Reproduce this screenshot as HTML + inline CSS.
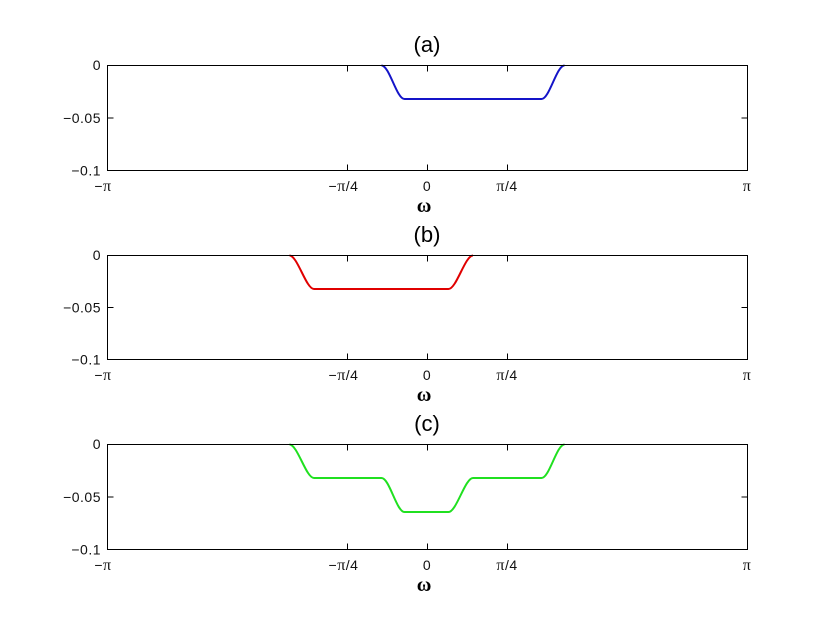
<!DOCTYPE html>
<html>
<head>
<meta charset="utf-8">
<style>
  html,body{margin:0;padding:0;background:#fff;}
  svg{display:block;}
  .t{font-family:"Liberation Sans",sans-serif;font-size:14px;fill:#111;letter-spacing:0.5px;}
  .ttl{font-family:"Liberation Sans",sans-serif;font-size:22px;fill:#000;}
  .om{font-family:"Liberation Serif",serif;font-size:20px;fill:#000;font-weight:600;}
  .pi{font-family:"Liberation Serif",serif;font-size:16px;}
</style>
</head>
<body>
<svg width="826" height="634" viewBox="0 0 826 634" xmlns="http://www.w3.org/2000/svg">
  <rect x="0" y="0" width="826" height="634" fill="#fff"/>

  <!-- ===== Subplot (a) ===== -->
  <text class="ttl" x="427" y="52" text-anchor="middle">(a)</text>
  <path d="M381.5,65.5 C389.5,65.5 396.5,99 404.5,99 L541.5,99 C549.5,99 556.5,65.5 564.5,65.5" fill="none" stroke="#1414c8" stroke-width="2"/>
  <rect x="107.5" y="65.5" width="640" height="105" fill="none" stroke="#000" stroke-width="1"/>
  <g stroke="#000" stroke-width="1">
    <line x1="347.5" y1="65.5" x2="347.5" y2="71.5"/>
    <line x1="427.5" y1="65.5" x2="427.5" y2="71.5"/>
    <line x1="507.5" y1="65.5" x2="507.5" y2="71.5"/>
    <line x1="347.5" y1="170.5" x2="347.5" y2="164.5"/>
    <line x1="427.5" y1="170.5" x2="427.5" y2="164.5"/>
    <line x1="507.5" y1="170.5" x2="507.5" y2="164.5"/>
    <line x1="107.5" y1="118" x2="113.5" y2="118"/>
    <line x1="747.5" y1="118" x2="741.5" y2="118"/>
  </g>
  <text class="t" x="101" y="70" text-anchor="end">0</text>
  <text class="t" x="101" y="123" text-anchor="end">−0.05</text>
  <text class="t" x="101" y="175.5" text-anchor="end">−0.1</text>
  <text class="t" x="103" y="191" text-anchor="middle">−<tspan class="pi">π</tspan></text>
  <text class="t" x="343.5" y="191" text-anchor="middle">−<tspan class="pi">π</tspan>/4</text>
  <text class="t" x="427" y="191" text-anchor="middle">0</text>
  <text class="t" x="507" y="191" text-anchor="middle"><tspan class="pi">π</tspan>/4</text>
  <text class="t" x="747" y="191" text-anchor="middle"><tspan class="pi">π</tspan></text>
  <text class="om" x="424" y="212" text-anchor="middle">ω</text>

  <!-- ===== Subplot (b) ===== -->
  <text class="ttl" x="427" y="242" text-anchor="middle">(b)</text>
  <path d="M289.5,255.5 C297.5,255.5 306,289 314,289 L448.5,289 C456.5,289 465,255.5 473,255.5" fill="none" stroke="#e00000" stroke-width="2"/>
  <rect x="107.5" y="255.5" width="640" height="104" fill="none" stroke="#000" stroke-width="1"/>
  <g stroke="#000" stroke-width="1">
    <line x1="347.5" y1="255.5" x2="347.5" y2="261.5"/>
    <line x1="427.5" y1="255.5" x2="427.5" y2="261.5"/>
    <line x1="507.5" y1="255.5" x2="507.5" y2="261.5"/>
    <line x1="347.5" y1="359.5" x2="347.5" y2="353.5"/>
    <line x1="427.5" y1="359.5" x2="427.5" y2="353.5"/>
    <line x1="507.5" y1="359.5" x2="507.5" y2="353.5"/>
    <line x1="107.5" y1="307.5" x2="113.5" y2="307.5"/>
    <line x1="747.5" y1="307.5" x2="741.5" y2="307.5"/>
  </g>
  <text class="t" x="101" y="260" text-anchor="end">0</text>
  <text class="t" x="101" y="312.5" text-anchor="end">−0.05</text>
  <text class="t" x="101" y="364.5" text-anchor="end">−0.1</text>
  <text class="t" x="103" y="380" text-anchor="middle">−<tspan class="pi">π</tspan></text>
  <text class="t" x="343.5" y="380" text-anchor="middle">−<tspan class="pi">π</tspan>/4</text>
  <text class="t" x="427" y="380" text-anchor="middle">0</text>
  <text class="t" x="507" y="380" text-anchor="middle"><tspan class="pi">π</tspan>/4</text>
  <text class="t" x="747" y="380" text-anchor="middle"><tspan class="pi">π</tspan></text>
  <text class="om" x="424" y="401" text-anchor="middle">ω</text>

  <!-- ===== Subplot (c) ===== -->
  <text class="ttl" x="427" y="431" text-anchor="middle">(c)</text>
  <path d="M289.5,444.5 C297.5,444.5 306,478 314,478 L381.5,478 C389.5,478 396.5,512 404.5,512 L448.5,512 C456.5,512 465,478 473,478 L541.5,478 C549.5,478 556.5,444.5 564.5,444.5" fill="none" stroke="#20e020" stroke-width="2"/>
  <rect x="107.5" y="444.5" width="640" height="105" fill="none" stroke="#000" stroke-width="1"/>
  <g stroke="#000" stroke-width="1">
    <line x1="347.5" y1="444.5" x2="347.5" y2="450.5"/>
    <line x1="427.5" y1="444.5" x2="427.5" y2="450.5"/>
    <line x1="507.5" y1="444.5" x2="507.5" y2="450.5"/>
    <line x1="347.5" y1="549.5" x2="347.5" y2="543.5"/>
    <line x1="427.5" y1="549.5" x2="427.5" y2="543.5"/>
    <line x1="507.5" y1="549.5" x2="507.5" y2="543.5"/>
    <line x1="107.5" y1="497" x2="113.5" y2="497"/>
    <line x1="747.5" y1="497" x2="741.5" y2="497"/>
  </g>
  <text class="t" x="101" y="449" text-anchor="end">0</text>
  <text class="t" x="101" y="502" text-anchor="end">−0.05</text>
  <text class="t" x="101" y="554.5" text-anchor="end">−0.1</text>
  <text class="t" x="103" y="570" text-anchor="middle">−<tspan class="pi">π</tspan></text>
  <text class="t" x="343.5" y="570" text-anchor="middle">−<tspan class="pi">π</tspan>/4</text>
  <text class="t" x="427" y="570" text-anchor="middle">0</text>
  <text class="t" x="507" y="570" text-anchor="middle"><tspan class="pi">π</tspan>/4</text>
  <text class="t" x="747" y="570" text-anchor="middle"><tspan class="pi">π</tspan></text>
  <text class="om" x="424" y="591" text-anchor="middle">ω</text>
</svg>
</body>
</html>
